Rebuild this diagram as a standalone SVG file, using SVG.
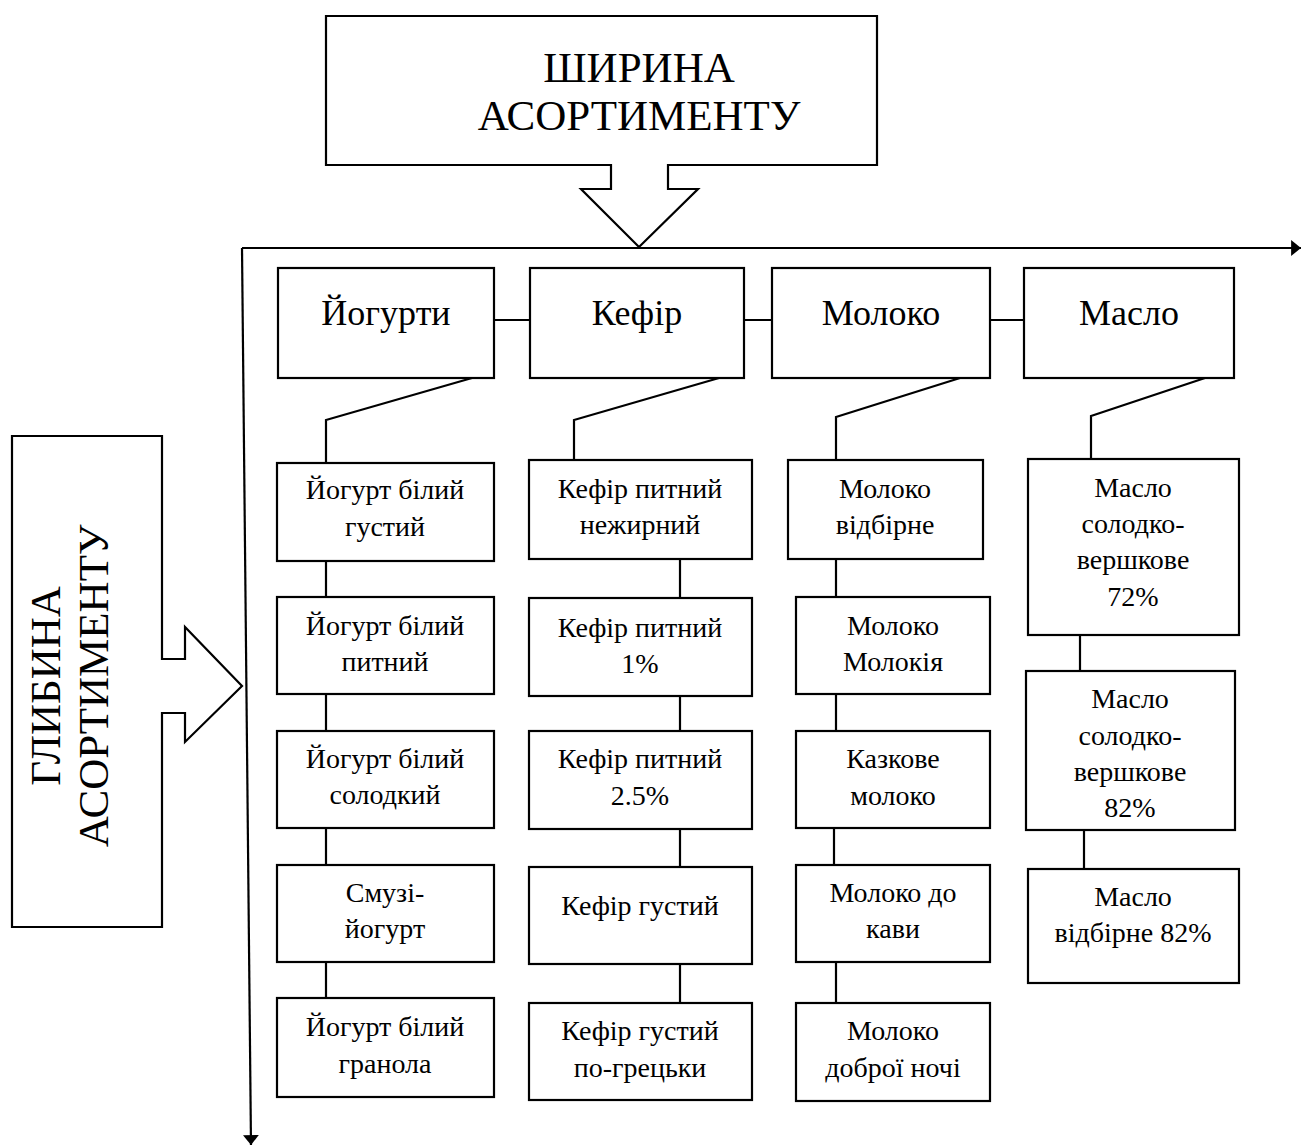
<svg xmlns="http://www.w3.org/2000/svg" width="1301" height="1145" viewBox="0 0 1301 1145">
<style>
.b{fill:#fff;stroke:#000;stroke-width:2.2}
.c{fill:none;stroke:#000;stroke-width:2.2}
text{font-family:"Liberation Serif","Times New Roman",serif;fill:#000;text-anchor:middle}
.big{font-size:43px}
.hd{font-size:36px}
.t{font-size:28px}
</style>
<defs>
<marker id="ah" viewBox="0 0 10 16" refX="10" refY="8" markerWidth="4.5" markerHeight="7.2" orient="auto" markerUnits="strokeWidth">
<path d="M0,0 L10,8 L0,16 Z" fill="#000"/>
</marker>
</defs>
<rect width="1301" height="1145" fill="#fff"/>

<g id="axes" class="connectors">
<path class="c" d="M242,248 L1301,248" marker-end="url(#ah)"/>
<path class="c" d="M242,248 L251,1145" marker-end="url(#ah)"/>
</g>

<g id="shyryna">
<path class="b" d="M611,165 L326,165 L326,16 L877,16 L877,165 L668,165 L668,189 L698,189 L639,247 L581,189 L611,189 Z"/>
<text class="big" x="639" y="82">ШИРИНА</text>
<text class="big" x="639" y="130">АСОРТИМЕНТУ</text>
</g>

<g id="hlybyna">
<path class="b" d="M162,659 L162,436 L12,436 L12,927 L162,927 L162,713 L185,713 L185,742 L242,686 L185,627 L185,659 Z"/>
<text class="big" transform="translate(60,686) rotate(-90)">ГЛИБИНА</text>
<text class="big" transform="translate(108,686) rotate(-90)">АСОРТИМЕНТУ</text>
</g>

<g id="connectors">
<path class="c" d="M494,320 L530,320 M744,320 L772,320 M990,320 L1024,320"/>
<path class="c" d="M472,378 L326,420 L326,463"/>
<path class="c" d="M719,378 L574,420 L574,460"/>
<path class="c" d="M960,378 L836,417 L836,460"/>
<path class="c" d="M1205,378 L1091,416 L1091,459"/>
<path class="c" d="M326,561 L326,597 M326,694 L326,731 M326,828 L326,865 M326,962 L326,998"/>
<path class="c" d="M680,559 L680,598 M680,696 L680,731 M680,829 L680,867 M680,964 L680,1003"/>
<path class="c" d="M836,559 L836,597 M836,694 L836,731 M834,828 L834,865 M836,962 L836,1003"/>
<path class="c" d="M1080,635 L1080,671 M1084,830 L1084,869"/>
</g>

<g id="h-yogurty"><rect class="b" x="278" y="268" width="216" height="110"/><text class="hd" x="386" y="325">Йогурти</text></g>
<g id="h-kefir"><rect class="b" x="530" y="268" width="214" height="110"/><text class="hd" x="637" y="325">Кефір</text></g>
<g id="h-moloko"><rect class="b" x="772" y="268" width="218" height="110"/><text class="hd" x="881" y="325">Молоко</text></g>
<g id="h-maslo"><rect class="b" x="1024" y="268" width="210" height="110"/><text class="hd" x="1129" y="325">Масло</text></g>

<g id="y1"><rect class="b" x="277" y="463" width="217" height="98"/><text class="t" x="385" y="499">Йогурт білий</text><text class="t" x="385" y="536">густий</text></g>
<g id="y2"><rect class="b" x="277" y="597" width="217" height="97"/><text class="t" x="385" y="635">Йогурт білий</text><text class="t" x="385" y="671">питний</text></g>
<g id="y3"><rect class="b" x="277" y="731" width="217" height="97"/><text class="t" x="385" y="768">Йогурт білий</text><text class="t" x="385" y="804">солодкий</text></g>
<g id="y4"><rect class="b" x="277" y="865" width="217" height="97"/><text class="t" x="385" y="902">Смузі-</text><text class="t" x="385" y="938">йогурт</text></g>
<g id="y5"><rect class="b" x="277" y="998" width="217" height="99"/><text class="t" x="385" y="1036">Йогурт білий</text><text class="t" x="385" y="1073">гранола</text></g>

<g id="k1"><rect class="b" x="529" y="460" width="223" height="99"/><text class="t" x="640" y="498">Кефір питний</text><text class="t" x="640" y="534">нежирний</text></g>
<g id="k2"><rect class="b" x="529" y="598" width="223" height="98"/><text class="t" x="640" y="637">Кефір питний</text><text class="t" x="640" y="673">1%</text></g>
<g id="k3"><rect class="b" x="529" y="731" width="223" height="98"/><text class="t" x="640" y="768">Кефір питний</text><text class="t" x="640" y="805">2.5%</text></g>
<g id="k4"><rect class="b" x="529" y="867" width="223" height="97"/><text class="t" x="640" y="915">Кефір густий</text></g>
<g id="k5"><rect class="b" x="529" y="1003" width="223" height="97"/><text class="t" x="640" y="1040">Кефір густий</text><text class="t" x="640" y="1077">по-грецьки</text></g>

<g id="m1"><rect class="b" x="788" y="460" width="195" height="99"/><text class="t" x="885" y="498">Молоко</text><text class="t" x="885" y="534">відбірне</text></g>
<g id="m2"><rect class="b" x="796" y="597" width="194" height="97"/><text class="t" x="893" y="635">Молоко</text><text class="t" x="893" y="671">Молокія</text></g>
<g id="m3"><rect class="b" x="796" y="731" width="194" height="97"/><text class="t" x="893" y="768">Казкове</text><text class="t" x="893" y="805">молоко</text></g>
<g id="m4"><rect class="b" x="796" y="865" width="194" height="97"/><text class="t" x="893" y="902">Молоко до</text><text class="t" x="893" y="938">кави</text></g>
<g id="m5"><rect class="b" x="796" y="1003" width="194" height="98"/><text class="t" x="893" y="1040">Молоко</text><text class="t" x="893" y="1077">доброї ночі</text></g>

<g id="b1"><rect class="b" x="1028" y="459" width="211" height="176"/><text class="t" x="1133" y="497">Масло</text><text class="t" x="1133" y="533">солодко-</text><text class="t" x="1133" y="569">вершкове</text><text class="t" x="1133" y="606">72%</text></g>
<g id="b2"><rect class="b" x="1026" y="671" width="209" height="159"/><text class="t" x="1130" y="708">Масло</text><text class="t" x="1130" y="745">солодко-</text><text class="t" x="1130" y="781">вершкове</text><text class="t" x="1130" y="817">82%</text></g>
<g id="b3"><rect class="b" x="1028" y="869" width="211" height="114"/><text class="t" x="1133" y="906">Масло</text><text class="t" x="1133" y="942">відбірне 82%</text></g>
</svg>
